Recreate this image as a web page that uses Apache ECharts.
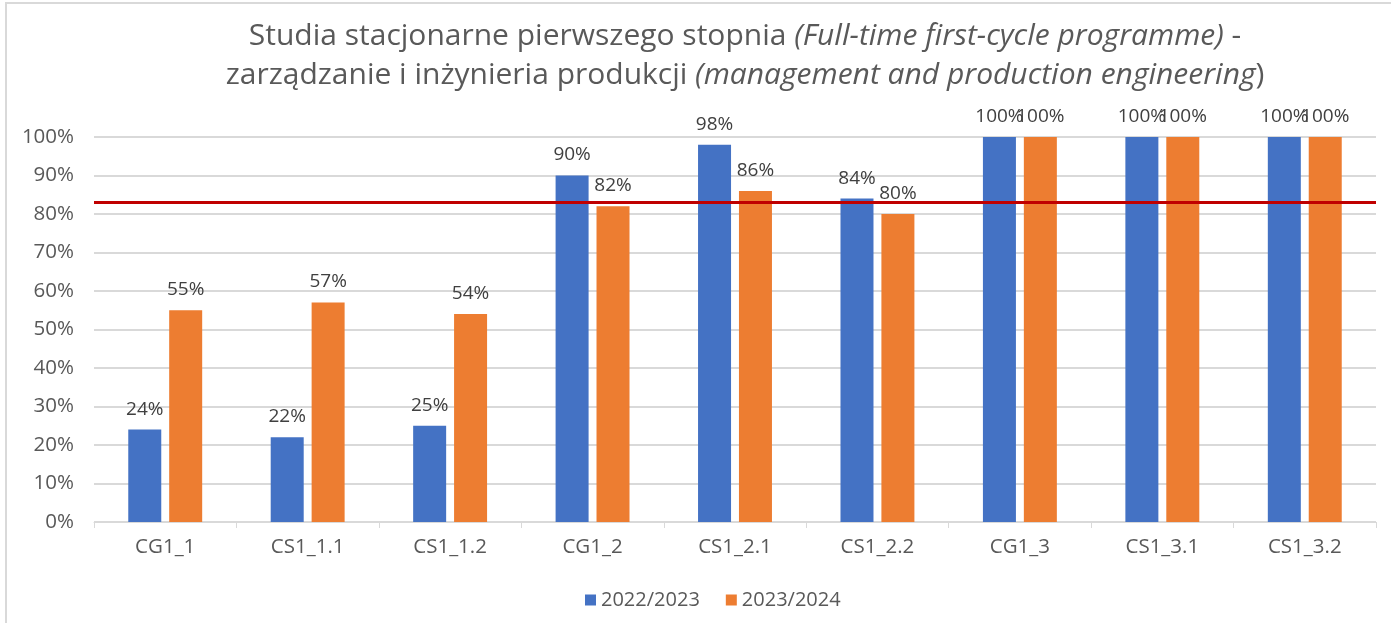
<!DOCTYPE html>
<html>
<head>
<meta charset="utf-8">
<script src="https://cdn.jsdelivr.net/npm/echarts@6/dist/echarts.min.js"></script>
<style>
html,body{margin:0;padding:0;background:#fff;}
#c{width:1391px;height:623px;}
</style>
</head>
<body>
<div id="c"></div>
<script>
const categories = ['CG1_1','CS1_1.1','CS1_1.2','CG1_2','CS1_2.1','CS1_2.2','CG1_3','CS1_3.1','CS1_3.2'];
const seriesNames = ['2022/2023','2023/2024'];
const values2223 = [24, 22, 25, 90, 98, 84, 100, 100, 100];
const values2324 = [55, 57, 54, 82, 86, 80, 100, 100, 100];
const thresholdValue = 83;
const yTicks = [0,10,20,30,40,50,60,70,80,90,100];

const FONT = '"Open Sans", "Liberation Sans", sans-serif';
const chart = echarts.init(document.getElementById('c'));
const labelCfg = {show:true, position:'top', formatter:'{c}%', color:'#404040', fontSize:19, fontFamily:FONT, distance:11};
chart.setOption({
  animation:false,
  textStyle:{fontFamily:FONT},
  graphic:[{type:'rect', shape:{x:6,y:3,width:1400,height:640}, style:{fill:'none', stroke:'#d9d9d9', lineWidth:2}, silent:true}],
  title:{
    left:740, textAlign:'center', top:12,
    text:'{n|Studia stacjonarne pierwszego stopnia }{i|(Full-time first-cycle programme)}{n| -}\n{n|zarządzanie i inżynieria produkcji }{i|(management and production engineering}{n|)}',
    textStyle:{
      fontSize:30, color:'#595959', lineHeight:39, fontWeight:'normal',
      rich:{
        n:{fontSize:30, color:'#595959', fontFamily:FONT, fontWeight:'normal', lineHeight:39},
        i:{fontSize:30, color:'#595959', fontFamily:FONT, fontWeight:'normal', fontStyle:'italic', lineHeight:39}
      }
    }
  },
  legend:{
    bottom:8, left:580, itemWidth:11, itemHeight:11, itemGap:26,
    icon:'rect',
    textStyle:{fontSize:20, color:'#595959', fontFamily:FONT},
    data:seriesNames
  },
  grid:{left:94, right:15, top:137, bottom:101, containLabel:false},
  xAxis:{
    type:'category', data:categories,
    axisLine:{lineStyle:{color:'#d9d9d9', width:1}},
    axisTick:{show:true, length:6, lineStyle:{color:'#d9d9d9'}},
    axisLabel:{color:'#595959', fontSize:20.5, fontFamily:FONT, margin:15}
  },
  yAxis:{
    type:'value', min:yTicks[0], max:yTicks[yTicks.length-1], interval:10,
    axisLabel:{formatter:'{value}%', color:'#595959', fontSize:20.5, fontFamily:FONT, margin:20},
    splitLine:{lineStyle:{color:'#d9d9d9', width:2}},
    axisLine:{show:false}, axisTick:{show:false}
  },
  series:[
    {name:seriesNames[0], type:'bar', data:values2223, barWidth:33, barGap:'24%',
     itemStyle:{color:'#4472c4'}, label:labelCfg,
     markLine:{silent:true, symbol:'none', label:{show:false},
       lineStyle:{color:'#c00000', width:3, type:'solid'},
       data:[{yAxis:thresholdValue}]}},
    {name:seriesNames[1], type:'bar', data:values2324, barWidth:33,
     itemStyle:{color:'#ed7d31'}, label:labelCfg}
  ]
});
</script>
</body>
</html>
